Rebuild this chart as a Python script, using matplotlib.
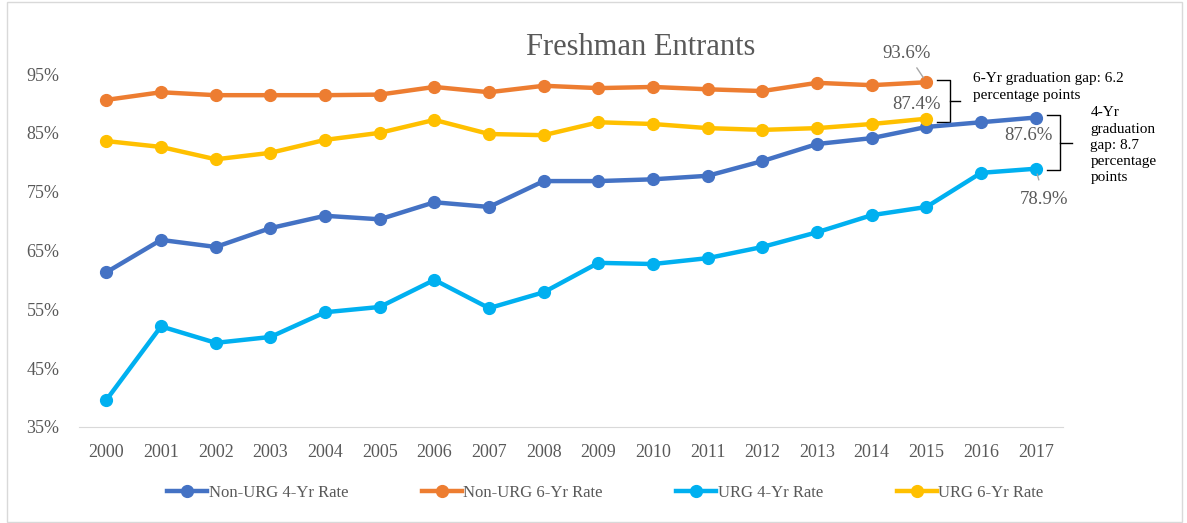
import matplotlib.pyplot as plt
from matplotlib.patches import Rectangle

plt.rcParams['font.family'] = ['Liberation Serif', 'DejaVu Serif']

# Datos
years = list(range(2000, 2018))
non_urg_4yr = [61.3, 66.8, 65.6, 68.8, 70.9, 70.3, 73.2, 72.4, 76.8, 76.8,
               77.1, 77.7, 80.2, 83.1, 84.1, 86.0, 86.8, 87.6]
non_urg_6yr = [90.6, 91.9, 91.4, 91.4, 91.4, 91.5, 92.8, 91.9, 93.0, 92.6,
               92.8, 92.4, 92.1, 93.5, 93.1, 93.6]
urg_4yr = [39.6, 52.1, 49.3, 50.3, 54.5, 55.4, 60.0, 55.2, 57.9, 62.9,
           62.7, 63.7, 65.6, 68.1, 71.0, 72.4, 78.2, 78.9]
urg_6yr = [83.6, 82.6, 80.5, 81.6, 83.8, 85.0, 87.2, 84.8, 84.6, 86.8,
           86.5, 85.8, 85.5, 85.8, 86.5, 87.4]
y_ticks = [35, 45, 55, 65, 75, 85, 95]

gris = '#595959'
series = [
    ('Non-URG 4-Yr Rate', non_urg_4yr, '#4472C4'),
    ('Non-URG 6-Yr Rate', non_urg_6yr, '#ED7D31'),
    ('URG 4-Yr Rate', urg_4yr, '#00B0F0'),
    ('URG 6-Yr Rate', urg_6yr, '#FFC000'),
]

fig = plt.figure(figsize=(11.87, 5.23), dpi=100)
ax = fig.add_axes([0.0666, 0.1836, 0.829, 0.6749])

for nombre, valores, color in series:
    ax.plot(years[:len(valores)], valores, color=color, lw=3.2, marker='o',
            markersize=8.5, label=nombre, clip_on=False, zorder=3)

ax.set_xlim(1999.5, 2017.5)
ax.set_ylim(35, 95)
ax.set_xticks(years)
ax.set_yticks(y_ticks)
ax.set_yticklabels([f'{v}%' for v in y_ticks])
ax.tick_params(length=0, labelsize=13, colors=gris)
ax.tick_params(axis='x', pad=12)
ax.tick_params(axis='y', pad=14)
for lado in ['top', 'right', 'left']:
    ax.spines[lado].set_visible(False)
ax.spines['bottom'].set_color('#D9D9D9')

fig.text(0.54, 0.91, 'Freshman Entrants', ha='center', va='center',
         fontsize=22, color=gris)

# Etiquetas de valores finales
ax.annotate(f'{non_urg_6yr[-1]}%', xy=(2015, non_urg_6yr[-1]), xytext=(-14, 21),
            textcoords='offset points', ha='center', va='center', fontsize=13.5,
            color=gris, arrowprops=dict(arrowstyle='-', color='#A6A6A6', lw=1,
                                        shrinkA=3, shrinkB=4))
ax.annotate(f'{urg_6yr[-1]}%', xy=(2015, urg_6yr[-1]), xytext=(-7, 10),
            textcoords='offset points', ha='center', va='center', fontsize=13.5,
            color=gris)
ax.annotate(f'{non_urg_4yr[-1]}%', xy=(2017, non_urg_4yr[-1]), xytext=(-5, -13),
            textcoords='offset points', ha='center', va='center', fontsize=13.5,
            color=gris)
ax.annotate(f'{urg_4yr[-1]}%', xy=(2017, urg_4yr[-1]), xytext=(6, -22),
            textcoords='offset points', ha='center', va='center', fontsize=13.5,
            color=gris, arrowprops=dict(arrowstyle='-', color='#A6A6A6', lw=1,
                                        shrinkA=6, shrinkB=4))

# Llaves de brecha
def llave(x0, x1, x2, y_top, y_bot):
    ym = (y_top + y_bot) / 2
    ax.plot([x0, x1, x1, x0], [y_top, y_top, y_bot, y_bot], color='black',
            lw=1, clip_on=False)
    ax.plot([x1, x2], [ym, ym], color='black', lw=1, clip_on=False)

llave(2015.19, 2015.43, 2015.62, 93.9, 86.9)
ax.text(2015.85, 95.3, '6-Yr graduation gap: 6.2\npercentage points', ha='left',
        va='top', fontsize=11, color='black', linespacing=1.4)
llave(2017.2, 2017.44, 2017.66, 88.0, 78.7)
ax.text(2018.0, 89.5, '4-Yr\ngraduation\ngap: 8.7\npercentage\npoints', ha='left',
        va='top', fontsize=11, color='black', linespacing=1.32)

fig.legend(loc='center', bbox_to_anchor=(0.51, 0.057), ncol=4, frameon=False,
           fontsize=12, handlelength=2.4, columnspacing=4.4, handletextpad=0.1,
           labelcolor=gris)

fig.patches.append(Rectangle((0.006, 0.002), 0.99, 0.995, transform=fig.transFigure,
                             fill=False, edgecolor='#D9D9D9', lw=1))

plt.savefig('out.png', dpi=100)
